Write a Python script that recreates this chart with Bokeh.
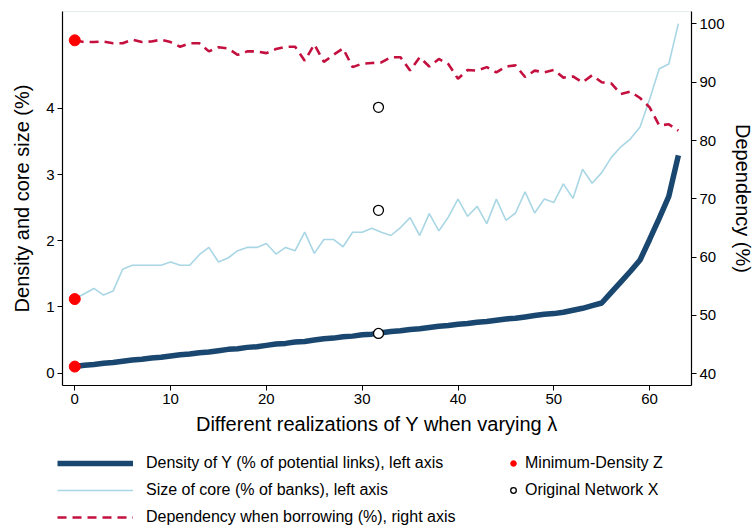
from bokeh.plotting import figure
from bokeh.layouts import column
from bokeh.models import Range1d, LinearAxis, FixedTicker, Legend, LegendItem
from bokeh.embed import file_html
from bokeh.resources import INLINE

# ---- data ----
realization = list(range(64))

density = [0.10, 0.12, 0.13, 0.15, 0.16, 0.18, 0.20, 0.21, 0.23, 0.24,
           0.26, 0.28, 0.29, 0.31, 0.32, 0.34, 0.36, 0.37, 0.39, 0.40,
           0.42, 0.44, 0.45, 0.47, 0.48, 0.50, 0.52, 0.53, 0.55, 0.56,
           0.58, 0.59, 0.61, 0.63, 0.64, 0.66, 0.67, 0.69, 0.71, 0.72,
           0.74, 0.75, 0.77, 0.78, 0.80, 0.82, 0.83, 0.85, 0.87, 0.89,
           0.90, 0.92, 0.95, 0.98, 1.02, 1.06, 1.22, 1.38, 1.54, 1.71,
           2.02, 2.34, 2.67, 3.29]

core_size = [1.12, 1.20, 1.28, 1.18, 1.24, 1.57, 1.63, 1.63, 1.63, 1.63,
             1.68, 1.63, 1.63, 1.79, 1.90, 1.68, 1.74, 1.85, 1.90, 1.90,
             1.96, 1.80, 1.90, 1.85, 2.13, 1.81, 2.02, 2.02, 1.91, 2.13,
             2.13, 2.19, 2.13, 2.08, 2.20, 2.35, 2.08, 2.41, 2.15, 2.36,
             2.63, 2.37, 2.52, 2.26, 2.63, 2.31, 2.42, 2.74, 2.42, 2.63,
             2.58, 2.86, 2.64, 3.08, 2.87, 3.03, 3.26, 3.42, 3.54, 3.72,
             4.14, 4.60, 4.67, 5.28]

dependency = [97.2, 96.9, 96.9, 97.0, 96.7, 96.7, 97.3, 96.9, 97.0, 97.3,
              96.9, 96.1, 96.7, 96.7, 95.3, 96.0, 95.8, 94.7, 95.3, 95.3,
              95.0, 95.7, 96.1, 96.1, 93.7, 96.5, 93.5, 94.7, 95.8, 92.6,
              93.2, 93.3, 93.4, 94.3, 94.3, 92.0, 94.3, 92.7, 94.0, 93.1,
              90.6, 92.1, 92.0, 92.6, 91.7, 92.7, 92.9, 90.9, 92.0, 91.7,
              92.1, 90.8, 91.0, 90.0, 91.2, 90.0, 89.8, 88.0, 88.4, 87.3,
              85.7, 82.6, 82.8, 81.7]

min_z_x = [0, 0]
min_z_left = [0.10, 1.12]
min_z_dep = [97.2]

orig_x = [31.7, 31.7]
orig_left = [0.60, 2.46]
orig_dep = [85.7]

left_ticks = [0, 1, 2, 3, 4]
right_ticks = [40, 50, 60, 70, 80, 90, 100]
x_ticks = [0, 10, 20, 30, 40, 50, 60]

legend_lines = ["Density of Y (% of potential links), left axis",
                "Size of core (% of banks), left axis",
                "Dependency when borrowing (%), right axis"]
legend_marks = ["Minimum-Density Z", "Original Network X"]

FONT = "Liberation Sans"
NAVY = "#1a476f"
LTBLUE = "#a9d6e5"
CRAN = "#c4103f"
RED = "#ff0000"

p = figure(frame_width=629, frame_height=374, output_backend="svg",
           toolbar_location=None,
           x_range=Range1d(-1.28, 64.37), y_range=Range1d(-0.186, 5.464),
           min_border_left=62, min_border_right=50, min_border_top=11,
           min_border_bottom=55)
p.extra_y_ranges = {"dep": Range1d(37.99, 102.14)}

p.xgrid.visible = False
p.ygrid.visible = False
p.outline_line_color = "#e4ecee"
p.background_fill_color = "white"
p.border_fill_color = "white"

DEN_STYLE = dict(line_color=NAVY, line_width=5.5)
CORE_STYLE = dict(line_color=LTBLUE, line_width=1.6)
DEP_STYLE = dict(line_color=CRAN, line_width=2.6, line_dash="9 6")
ORIG_STYLE = dict(marker="circle", size=10, fill_color="white",
                  line_color="black", line_width=1.3)
MINZ_STYLE = dict(marker="circle", size=11, fill_color=RED, line_color=RED)

# lines
p.line(realization, core_size, **CORE_STYLE)
p.line(realization, dependency, y_range_name="dep", **DEP_STYLE)
p.line(realization, density, **DEN_STYLE)

# markers
p.scatter(orig_x, orig_left, **ORIG_STYLE)
p.scatter(orig_x[:1], orig_dep, y_range_name="dep", **ORIG_STYLE)
p.scatter(min_z_x, min_z_left, **MINZ_STYLE)
p.scatter(min_z_x[:1], min_z_dep, y_range_name="dep", **MINZ_STYLE)

# axes
def style_axis(ax):
    ax.axis_line_color = "black"
    ax.axis_line_width = 1.2
    ax.major_tick_line_color = "black"
    ax.major_tick_in = 0
    ax.major_tick_out = 5
    ax.minor_tick_line_color = None
    ax.major_label_standoff = 3
    ax.major_label_text_font = FONT
    ax.major_label_text_font_size = "15px"
    ax.major_label_text_color = "black"
    ax.axis_label_text_font = FONT
    ax.axis_label_text_font_size = "20px"
    ax.axis_label_text_font_style = "normal"
    ax.axis_label_text_color = "black"

p.xaxis.ticker = FixedTicker(ticks=x_ticks)
p.xaxis.axis_label = "Different realizations of Y when varying λ"
p.yaxis.ticker = FixedTicker(ticks=left_ticks)
p.yaxis.axis_label = "Density and core size (%)"
style_axis(p.xaxis[0])
style_axis(p.yaxis[0])
p.xaxis.axis_label_standoff = 6
p.yaxis.axis_label_standoff = 10

rax = LinearAxis(y_range_name="dep", ticker=FixedTicker(ticks=right_ticks),
                 axis_label="Dependency (%)")
style_axis(rax)
rax.axis_label_standoff = 4
p.add_layout(rax, "right")

# legend strip under the chart (proxy glyphs carry only the styles)
q = figure(frame_width=748, frame_height=86, output_backend="svg",
           toolbar_location=None,
           x_range=Range1d(0, 1), y_range=Range1d(0, 1),
           x_axis_type=None, y_axis_type=None,
           min_border=0, min_border_left=0, min_border_right=0,
           min_border_top=0, min_border_bottom=0)
q.xgrid.visible = False
q.ygrid.visible = False
q.outline_line_color = None
q.background_fill_color = "white"
q.border_fill_color = "white"

nan = float("nan")
g_den = q.line([nan], [nan], **DEN_STYLE)
g_core = q.line([nan], [nan], **CORE_STYLE)
g_dep = q.line([nan], [nan], **DEP_STYLE)
g_minz = q.scatter([nan], [nan], **MINZ_STYLE)
g_orig = q.scatter([nan], [nan], **ORIG_STYLE)

common = dict(glyph_height=18, label_height=18, spacing=9, padding=0, margin=0,
              border_line_alpha=0, background_fill_alpha=0,
              label_text_font=FONT, label_text_font_size="16px",
              label_text_color="black")
leg1 = Legend(items=[LegendItem(label=legend_lines[0], renderers=[g_den]),
                     LegendItem(label=legend_lines[1], renderers=[g_core]),
                     LegendItem(label=legend_lines[2], renderers=[g_dep])],
              location=(57, 0), glyph_width=76, label_standoff=13, **common)
leg2 = Legend(items=[LegendItem(label=legend_marks[0], renderers=[g_minz]),
                     LegendItem(label=legend_marks[1], renderers=[g_orig])],
              location=(506, 27), glyph_width=14, label_standoff=5, **common)
q.add_layout(leg1, "center")
q.add_layout(leg2, "center")

layout = column(p, q, spacing=0)
open("out.html", "w").write(file_html(layout, INLINE))
